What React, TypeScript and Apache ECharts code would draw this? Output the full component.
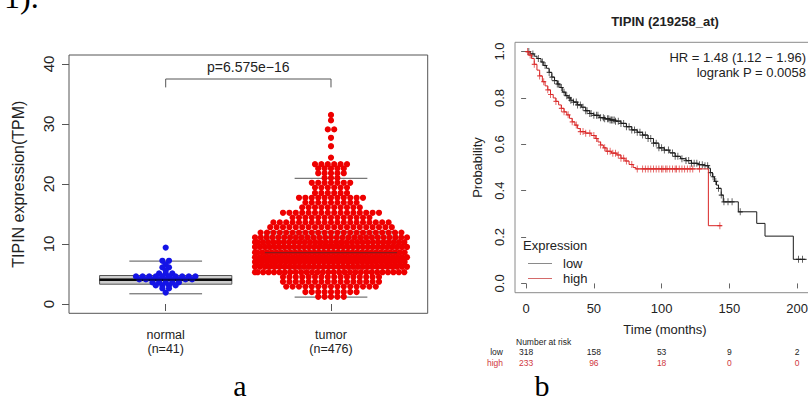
import React, { useEffect, useRef } from "react";
import * as echarts from "echarts";

// ---------- Panel a data ----------
const groupPositions = [1, 2];
const groupLabels = ["normal\n(n=41)", "tumor\n(n=476)"];
const exprTicks = [0, 10, 20, 30, 40];
const normalRowValues = [9.4, 7.2, 6.6, 6.1, 5.6, 5.1, 4.6, 4.1, 3.6, 3.1, 2.6, 1.9];
const normalRowCounts = [1, 2, 1, 2, 1, 3, 10, 9, 5, 4, 2, 1];
const tumorRowValues = [
  1.2, 2.0, 2.9, 3.7, 4.5, 5.3, 6.2, 7.0, 7.8, 8.6, 9.5, 10.3, 11.1, 11.9, 12.8, 13.6, 14.4,
  15.2, 16.1, 16.9, 17.7, 18.5, 19.4, 20.2, 21.0, 21.8, 22.6, 23.3, 24.4, 26.3, 27.7, 29.1, 30.6, 31.5,
];
const tumorRowCounts = [
  5, 9, 15, 16, 16, 29, 32, 33, 33, 33, 32, 30, 27, 23, 20, 19, 13,
  16, 10, 9, 11, 6, 6, 7, 3, 5, 5, 6, 1, 1, 1, 2, 1, 1,
];
// [low whisker, q1, median, q3, high whisker]
const normalBox = [1.7, 3.3, 4.05, 4.75, 7.15];
const tumorBox = [1.15, 5.9, 8.55, 12.05, 20.95];
const pValueText = "p=6.575e\u221216";

// ---------- Panel b data ----------
const lowCurve: [number, number][] = [
  [0, 1.0], [3, 0.99], [6, 0.98], [8, 0.97], [11, 0.955], [13, 0.94], [15, 0.928], [17, 0.91],
  [19, 0.89], [21, 0.875], [23, 0.86], [25, 0.845], [27, 0.825], [29, 0.81], [31, 0.8], [33, 0.79],
  [35, 0.782], [38, 0.77], [41, 0.76], [44, 0.745], [47, 0.733], [50, 0.725], [54, 0.715], [58, 0.71],
  [62, 0.705], [66, 0.7], [70, 0.69], [74, 0.676], [78, 0.662], [82, 0.652], [86, 0.64], [90, 0.625],
  [94, 0.605], [98, 0.585], [102, 0.575], [106, 0.563], [110, 0.548], [114, 0.538], [118, 0.53],
  [122, 0.518], [127, 0.512], [132, 0.508], [134.5, 0.497], [136, 0.478], [137.5, 0.46], [139, 0.44],
  [140.5, 0.424], [142, 0.41], [144, 0.381], [145.5, 0.352], [156.6, 0.309], [170.2, 0.259],
  [176.3, 0.204], [197.2, 0.104], [207, 0.104],
];
const highCurve: [number, number][] = [
  [0, 1.0], [2, 0.985], [4, 0.97], [6, 0.945], [8, 0.92], [10, 0.895], [12, 0.87], [14, 0.852],
  [16, 0.835], [18, 0.815], [20, 0.8], [22, 0.785], [24, 0.77], [26, 0.755], [28, 0.74], [30, 0.727],
  [32, 0.712], [34, 0.697], [36, 0.683], [38, 0.668], [40, 0.655], [44, 0.648], [48, 0.638],
  [51, 0.625], [53, 0.61], [55, 0.597], [57, 0.585], [59, 0.57], [63, 0.562], [67, 0.554],
  [70, 0.54], [73, 0.528], [76, 0.513], [79, 0.5], [81, 0.494], [134.5, 0.249], [144.3, 0.249],
];
const lowCensorTimes = [
  2, 5, 9, 12, 14, 17, 19, 21, 23, 24, 26, 28, 30, 32, 33, 35, 37, 38, 40, 42, 44, 45, 47, 48, 50,
  52, 53, 55, 57, 58, 60, 61, 62, 63, 64, 65, 66, 68, 70, 72, 74, 76, 78, 80, 82, 84, 86, 88, 90,
  92, 94, 96, 98, 100, 102, 105, 108, 110, 112, 115, 118, 120, 122, 124, 126, 128, 130, 132, 134,
  136, 138, 140, 142, 144, 146, 149, 152, 158, 201, 204,
];
const highCensorTimes = [
  1, 3, 6, 10, 13, 16, 18, 22, 26, 28, 31, 34, 37, 40, 42, 44, 47, 50, 52, 55, 58, 60, 62, 64, 66,
  68, 70, 72, 74, 78, 82, 86, 88, 90, 92, 94, 96, 98, 100, 101, 103, 104, 106, 108, 110, 111, 113,
  115, 117, 119, 121, 123, 128, 143,
];
const timeTicks = [0, 50, 100, 150, 200];
const probTicks = [0, 0.2, 0.4, 0.6, 0.8, 1.0];
const riskLow = [318, 158, 53, 9, 2];
const riskHigh = [233, 96, 18, 0, 0];
const hrText = "HR = 1.48 (1.12 \u2212 1.96)";
const logrankText = "logrank P = 0.0058";
const kmTitle = "TIPIN (219258_at)";

// ---------- layout ----------
const SANS = "'Liberation Sans', Arial, Helvetica, sans-serif";
const SERIF = "'Liberation Serif', 'Times New Roman', serif";
const A = { left: 69, top: 55, width: 358.7, height: 258.3, xmin: 0.415, xmax: 2.585, ymin: -1.55, ymax: 41.5 };
const B = { left: 515, top: 42.3, width: 300, height: 250.4, xmin: -8.2, xmax: 213.2, ymin: -0.04, ymax: 1.04 };
const pxPerUnitA = A.width / (A.xmax - A.xmin);

function swarm(center: number, values: number[], counts: number[], maxSpan: number, step: number) {
  const pts: number[][] = [];
  values.forEach((v, r) => {
    const n = counts[r];
    const capped = n > 1 && step * (n - 1) > maxSpan;
    const s = n > 1 ? Math.min(step, maxSpan / (n - 1)) : 0;
    const shift = capped && r % 2 === 1 ? -s / 2 : 0;
    for (let i = 0; i < n; i++) {
      let off = (i - (n - 1) / 2) * s + shift;
      if (off < -maxSpan / 2) off = -maxSpan / 2;
      pts.push([center + off / pxPerUnitA, v]);
    }
  });
  return pts;
}

function survAt(curve: [number, number][], t: number) {
  let s = curve[0][1];
  for (const [ct, cs] of curve) if (ct <= t) s = cs;
  return s;
}

const CROSS = "path://M5,0L5,10M0,5L10,5";

export default function App() {
  const ref = useRef<HTMLDivElement>(null);
  useEffect(() => {
    const chart = echarts.init(ref.current!, undefined, { renderer: "svg" });

    const boxData = [
      [groupPositions[0], ...normalBox],
      [groupPositions[1], ...tumorBox],
    ];

    const option: any = {
      animation: false,
      grid: [
        { left: A.left, top: A.top, width: A.width, height: A.height, show: true, borderColor: "#555", borderWidth: 1, outerBoundsMode: "none" },
        { left: B.left, top: B.top, width: B.width, height: B.height, show: true, borderColor: "#8a8a8a", borderWidth: 1, outerBoundsMode: "none" },
      ],
      xAxis: [
        {
          gridIndex: 0, type: "value", min: A.xmin, max: A.xmax,
          axisLine: { show: false }, splitLine: { show: false },
          axisTick: { show: true, length: 7, customValues: groupPositions, lineStyle: { color: "#555" } },
          axisLabel: {
            customValues: groupPositions, margin: 14, fontSize: 12.5, lineHeight: 14.5, color: "#222", fontFamily: SANS,
            formatter: (v: number) => groupLabels[groupPositions.indexOf(v)] ?? "",
          },
        },
        {
          gridIndex: 1, type: "value", min: B.xmin, max: B.xmax,
          axisLine: { show: false }, splitLine: { show: false },
          axisTick: { show: true, length: 5, customValues: timeTicks, lineStyle: { color: "#666" } },
          axisLabel: { customValues: timeTicks, margin: 9, fontSize: 13, color: "#222", fontFamily: SANS },
          name: "Time (months)", nameLocation: "middle", nameGap: 30,
          nameTextStyle: { fontSize: 13, color: "#222", fontFamily: SANS },
        },
      ],
      yAxis: [
        {
          gridIndex: 0, type: "value", min: A.ymin, max: A.ymax,
          axisLine: { show: false }, splitLine: { show: false },
          axisTick: { show: true, length: 7, customValues: exprTicks, lineStyle: { color: "#555" } },
          axisLabel: { customValues: exprTicks, rotate: 90, margin: 13.5, fontSize: 15, color: "#222", fontFamily: SANS },
          name: "TIPIN expression(TPM)", nameLocation: "middle", nameGap: 43, nameRotate: 90,
          nameTextStyle: { fontSize: 16, color: "#222", fontFamily: SANS },
        },
        {
          gridIndex: 1, type: "value", min: B.ymin, max: B.ymax,
          axisLine: { show: false }, splitLine: { show: false },
          axisTick: { show: true, length: 5, customValues: probTicks, lineStyle: { color: "#666" } },
          axisLabel: {
            customValues: probTicks, rotate: 90, margin: 9.5, fontSize: 13, color: "#222", fontFamily: SANS,
            formatter: (v: number) => v.toFixed(1),
          },
          name: "Probability", nameLocation: "middle", nameGap: 31.5, nameRotate: 90,
          nameTextStyle: { fontSize: 13, color: "#222", fontFamily: SANS },
        },
      ],
      series: [
        // boxes (under dots)
        {
          type: "custom", xAxisIndex: 0, yAxisIndex: 0, z: 1, data: boxData,
          encode: { x: 0, y: [1, 2, 3, 4, 5] },
          renderItem: (_p: any, api: any) => {
            const x = api.value(0);
            const halfBox = api.size([0.4, 0])[0];
            const halfSt = api.size([0.22, 0])[0];
            const [cx, yLo] = api.coord([x, api.value(1)]);
            const yQ1 = api.coord([x, api.value(2)])[1];
            const yMed = api.coord([x, api.value(3)])[1];
            const yQ3 = api.coord([x, api.value(4)])[1];
            const yHi = api.coord([x, api.value(5)])[1];
            return {
              type: "group",
              children: [
                { type: "rect", shape: { x: cx - halfBox, y: yQ3, width: 2 * halfBox, height: yQ1 - yQ3 }, style: { fill: "#cdcdcd", stroke: "#555", lineWidth: 1 } },
                { type: "line", shape: { x1: cx - halfBox, y1: yMed, x2: cx + halfBox, y2: yMed }, style: { stroke: "#111", lineWidth: 2.5 } },
                { type: "line", shape: { x1: cx - halfSt, y1: yHi, x2: cx + halfSt, y2: yHi }, style: { stroke: "#555", lineWidth: 1 } },
                { type: "line", shape: { x1: cx - halfSt, y1: yLo, x2: cx + halfSt, y2: yLo }, style: { stroke: "#555", lineWidth: 1 } },
              ],
            };
          },
        },
        {
          type: "scatter", xAxisIndex: 0, yAxisIndex: 0, z: 2, symbolSize: 6.2,
          itemStyle: { color: "#1414e6", opacity: 1 },
          data: swarm(groupPositions[0], normalRowValues, normalRowCounts, 72, 6.6),
        },
        {
          type: "scatter", xAxisIndex: 0, yAxisIndex: 0, z: 2, symbolSize: 6.2,
          itemStyle: { color: "#ee0000", opacity: 1 },
          data: swarm(groupPositions[1], tumorRowValues, tumorRowCounts, 152, 6.4),
        },
        // median overlay + bracket
        {
          type: "custom", xAxisIndex: 0, yAxisIndex: 0, z: 3, data: boxData,
          encode: { x: 0, y: [3] },
          renderItem: (p: any, api: any) => {
            const x = api.value(0);
            const halfBox = api.size([0.4, 0])[0];
            const [cx, yMed] = api.coord([x, api.value(3)]);
            return {
              type: "line", shape: { x1: cx - halfBox, y1: yMed, x2: cx + halfBox, y2: yMed },
              style: { stroke: p.dataIndex === 0 ? "#000" : "#333", lineWidth: p.dataIndex === 0 ? 2 : 1.2, opacity: 0.55 },
            };
          },
        },
        {
          type: "custom", xAxisIndex: 0, yAxisIndex: 0, z: 3, data: [[groupPositions[0], groupPositions[1], 37.5, 36.1, 39.5]],
          encode: { x: [0, 1], y: [2, 3] },
          renderItem: (_p: any, api: any) => {
            const a0 = api.coord([api.value(0), api.value(3)]);
            const a1 = api.coord([api.value(0), api.value(2)]);
            const b1 = api.coord([api.value(1), api.value(2)]);
            const b0 = api.coord([api.value(1), api.value(3)]);
            const t = api.coord([(api.value(0) + api.value(1)) / 2, api.value(4)]);
            return {
              type: "group",
              children: [
                { type: "polyline", shape: { points: [a0, a1, b1, b0] }, style: { stroke: "#555", lineWidth: 1, fill: "none" } },
                { type: "text", x: t[0], y: t[1], style: { text: pValueText, fontSize: 14, fontFamily: SANS, fill: "#222", align: "center", verticalAlign: "middle" } },
              ],
            };
          },
        },
        // KM curves
        {
          type: "line", xAxisIndex: 1, yAxisIndex: 1, step: "end", showSymbol: false, z: 3,
          lineStyle: { color: "#1a1a1a", width: 1 }, data: lowCurve,
        },
        {
          type: "line", xAxisIndex: 1, yAxisIndex: 1, step: "end", showSymbol: false, z: 4,
          lineStyle: { color: "#d92626", width: 1 }, data: highCurve,
        },
        {
          type: "scatter", xAxisIndex: 1, yAxisIndex: 1, symbol: CROSS, symbolSize: [5, 7], z: 3,
          itemStyle: { color: "transparent", borderColor: "#1a1a1a", borderWidth: 1 },
          data: lowCensorTimes.map((t) => [t, survAt(lowCurve, t)]),
        },
        {
          type: "scatter", xAxisIndex: 1, yAxisIndex: 1, symbol: CROSS, symbolSize: [5, 7], z: 4,
          itemStyle: { color: "transparent", borderColor: "#d92626", borderWidth: 1 },
          data: highCensorTimes.map((t) => [t, survAt(highCurve, t)]),
        },
      ],
    };
    chart.setOption(option);

    const gx = (t: number) => (chart.convertToPixel({ gridIndex: 1 } as any, [t, 0]) as number[])[0];
    const txt = (text: string, x: number, y: number, o: any = {}) => ({
      type: "text", x, y, silent: true,
      style: { text, fontSize: 13, fontFamily: SANS, fill: "#222", align: "left", verticalAlign: "middle", ...o },
    });
    const graphic: any[] = [
      txt("1).", 4, -3, { fontSize: 32, fontFamily: SERIF, fill: "#000", lineHeight: 22 }),
      txt("a", 240, 385, { fontSize: 30, fontFamily: SERIF, fill: "#000", align: "center", lineHeight: 22 }),
      txt("b", 542, 385, { fontSize: 30, fontFamily: SERIF, fill: "#000", align: "center", lineHeight: 22 }),
      txt(kmTitle, 665, 21, { fontWeight: "bold", align: "center" }),
      txt(hrText, 806, 57, { align: "right" }),
      txt(logrankText, 806, 72, { align: "right" }),
      txt("Expression", 523, 245),
      { type: "line", shape: { x1: 528, y1: 263.5, x2: 552, y2: 263.5 }, style: { stroke: "#8a8a8a", lineWidth: 1 } },
      { type: "line", shape: { x1: 528, y1: 278.5, x2: 552, y2: 278.5 }, style: { stroke: "#d46a6a", lineWidth: 1 } },
      txt("low", 563, 263),
      txt("high", 563, 278),
      txt("Number at risk", 516, 342, { fontSize: 8.5 }),
      txt("low", 503, 352.3, { fontSize: 8.5, align: "right" }),
      txt("high", 503, 362.7, { fontSize: 8.5, align: "right", fill: "#d0383e" }),
    ];
    timeTicks.forEach((t, i) => {
      const x = gx(t);
      graphic.push(txt(String(riskLow[i]), x, 352.3, { fontSize: 8.5, align: "center" }));
      graphic.push(txt(String(riskHigh[i]), x, 362.7, { fontSize: 8.5, align: "center", fill: "#d0383e" }));
    });
    chart.setOption({ graphic });

    return () => chart.dispose();
  }, []);
  return <div ref={ref} style={{ position: "absolute", left: 0, top: 0, width: 808, height: 401, background: "#fff" }} />;
}
